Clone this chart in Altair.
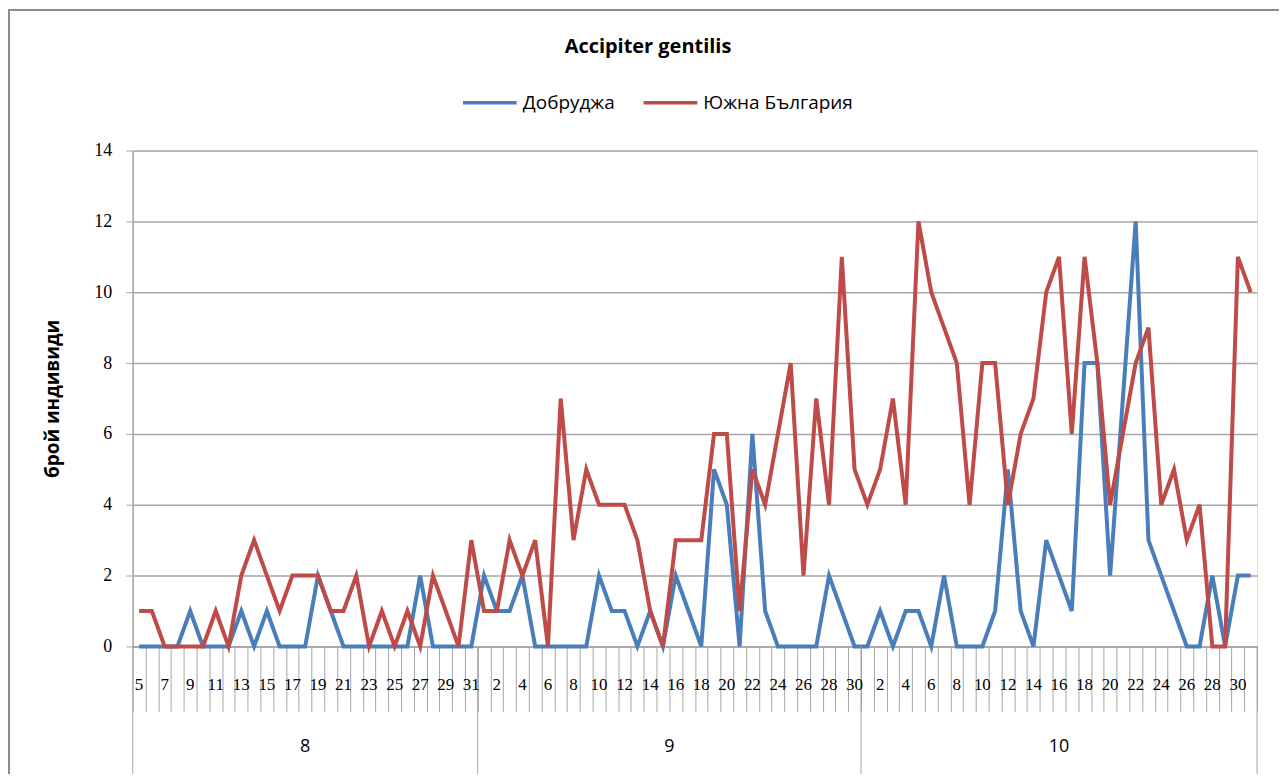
import altair as alt
import pandas as pd

# ---- data -------------------------------------------------------------
months = ["8"] * 27 + ["9"] * 30 + ["10"] * 31
days = list(range(5, 32)) + list(range(1, 31)) + list(range(1, 32))

dobrudzha = [
    # Aug 5..31
    0, 0, 0, 0, 1, 0, 0, 0, 1, 0, 1, 0, 0, 0, 2, 1, 0, 0, 0, 0, 0, 0, 2, 0, 0, 0, 0,
    # Sep 1..30
    2, 1, 1, 2, 0, 0, 0, 0, 0, 2, 1, 1, 0, 1, 0, 2, 1, 0, 5, 4, 0, 6, 1, 0, 0, 0, 0, 2, 1, 0,
    # Oct 1..31
    0, 1, 0, 1, 1, 0, 2, 0, 0, 0, 1, 5, 1, 0, 3, 2, 1, 8, 8, 2, 7, 12, 3, 2, 1, 0, 0, 2, 0, 2, 2,
]
south_bg = [
    # Aug 5..31
    1, 1, 0, 0, 0, 0, 1, 0, 2, 3, 2, 1, 2, 2, 2, 1, 1, 2, 0, 1, 0, 1, 0, 2, 1, 0, 3,
    # Sep 1..30
    1, 1, 3, 2, 3, 0, 7, 3, 5, 4, 4, 4, 3, 1, 0, 3, 3, 3, 6, 6, 1, 5, 4, 6, 8, 2, 7, 4, 11, 5,
    # Oct 1..31
    4, 5, 7, 4, 12, 10, 9, 8, 4, 8, 8, 4, 6, 7, 10, 11, 6, 11, 8, 4, 6, 8, 9, 4, 5, 3, 4, 0, 0, 11, 10,
]
series_names = ["Добруджа", "Южна България"]
series_colors = ["#4A7EBB", "#BE4B48"]
month_names = ["8", "9", "10"]
month_starts = [0, 27, 57]
month_ends = [27, 57, 88]

n = len(days)
rows = []
for name, vals in zip(series_names, [dobrudzha, south_bg]):
    for i, v in enumerate(vals):
        rows.append({"pos": i + 0.5, "series": name, "value": v, "day": days[i], "month": months[i]})
df = pd.DataFrame(rows)

lab_df = pd.DataFrame({"pos": [i + 0.5 for i in range(0, n, 2)],
                       "label": [str(days[i]) for i in range(0, n, 2)]})
sep_df = pd.DataFrame({"pos": month_starts + [month_ends[-1]]})
grp_df = pd.DataFrame({"pos": [(s + e) / 2 for s, e in zip(month_starts, month_ends)],
                       "label": month_names})

W, H = 1127, 497
GRAY = "#A6A6A6"

xscale = alt.Scale(domain=[0, n], nice=False, zero=False)
xaxis = alt.Axis(values=list(range(0, n + 1)), tickSize=65, labels=False,
                 grid=False, title=None, domainColor=GRAY, tickColor=GRAY,
                 tickWidth=1, domainWidth=1.5)

lines = alt.Chart(df).mark_line(strokeWidth=4).encode(
    x=alt.X("pos:Q", scale=xscale, axis=xaxis),
    y=alt.Y("value:Q", scale=alt.Scale(domain=[0, 14], nice=False),
            axis=alt.Axis(values=list(range(0, 15, 2)), tickSize=7, labelPadding=14,
                          labelFont="Liberation Serif", labelFontSize=18, labelColor="#000",
                          gridColor=GRAY, gridWidth=1.5, domainColor=GRAY, tickColor=GRAY,
                          domainWidth=1.5,
                          title="брой индивиди", titleFont="Open Sans", titleFontSize=19,
                          titleFontWeight="bold", titleColor="#000", titleAngle=-90,
                          titleX=-70, titleY=H / 2)),
    color=alt.Color("series:N",
                    scale=alt.Scale(domain=series_names, range=series_colors),
                    legend=alt.Legend(orient="none", legendX=329, legendY=-77,
                                      direction="horizontal", title=None,
                                      symbolType="stroke", symbolSize=2900,
                                      symbolStrokeWidth=3.5, labelFont="Open Sans",
                                      labelFontSize=19, labelColor="#000",
                                      labelOffset=4, columnPadding=21)),
    detail="series:N",
)

day_labels = alt.Chart(lab_df).mark_text(font="Liberation Serif", fontSize=17,
                                         color="#000", baseline="middle").encode(
    x=alt.X("pos:Q", scale=xscale, axis=xaxis),
    y=alt.value(H + 39),
    text="label:N",
)

separators = alt.Chart(sep_df).mark_rule(color=GRAY, strokeWidth=1).encode(
    x=alt.X("pos:Q", scale=xscale, axis=xaxis),
    y=alt.value(H),
    y2=alt.value(H + 135),
)

group_labels = alt.Chart(grp_df).mark_text(font="Open Sans", fontSize=18,
                                           color="#000", baseline="middle").encode(
    x=alt.X("pos:Q", scale=xscale, axis=xaxis),
    y=alt.value(H + 101),
    text="label:N",
)

border = alt.Chart(sep_df.head(1)).mark_rect(fill="transparent", stroke="#8C8C8C",
                                             strokeWidth=2).encode(
    x=alt.value(-124), x2=alt.value(W + 23),
    y=alt.value(-141), y2=alt.value(H + 160),
)

chart = alt.layer(lines, border, separators, day_labels, group_labels).properties(
    width=W, height=H,
    padding={"left": 125, "top": 142, "right": 22, "bottom": 127},
    autosize=alt.AutoSizeParams(type="none"),
    title=alt.TitleParams("Accipiter gentilis", font="Open Sans", fontSize=20,
                          fontWeight="bold", color="#000", anchor="middle",
                          dx=-47, offset=-48),
).configure_view(stroke=None).configure(background="white")

chart.save("out.html", embed_options={"renderer": "svg", "actions": False})
